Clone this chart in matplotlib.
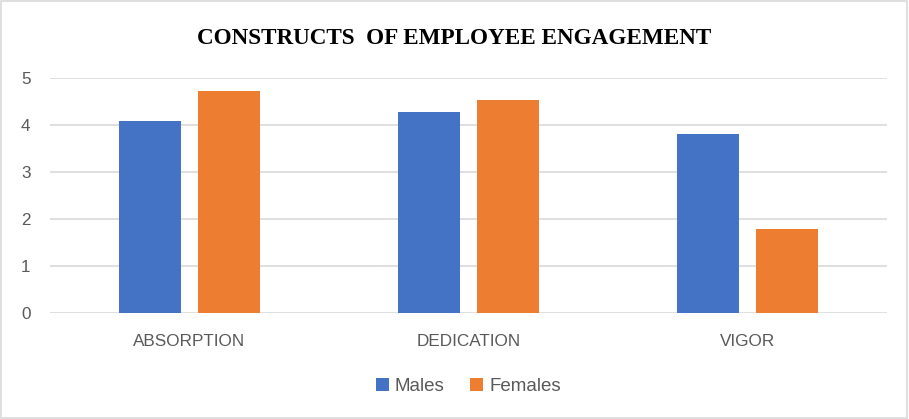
import matplotlib.pyplot as plt
import numpy as np

categories = ['ABSORPTION', 'DEDICATION', 'VIGOR']
males = [4.08, 4.28, 3.81]
females = [4.72, 4.53, 1.80]
series_names = ['Males', 'Females']
colors = ['#4472C4', '#ED7D31']

fig = plt.figure(figsize=(9.09, 4.19), dpi=100)
ax = fig.add_axes([0.055, 0.2523, 0.921, 0.5615])

x = np.arange(len(categories))
w = 0.222
ax.bar(x - 0.142, males, w, color=colors[0], label=series_names[0], zorder=3)
ax.bar(x + 0.142, females, w, color=colors[1], label=series_names[1], zorder=3)

ax.set_xlim(-0.5, 2.5)
ax.set_ylim(0, 5)
ax.set_yticks(range(6))
ax.yaxis.grid(True, color='#D9D9D9', linewidth=1.2, zorder=0)
for s in ax.spines.values():
    s.set_visible(False)
ax.tick_params(length=0, labelsize=12.3, labelcolor='#595959')
ax.tick_params(axis='y', pad=14)
ax.tick_params(axis='x', pad=15)
ax.set_xticks(x)
ax.set_xticklabels(categories)
for lab in ax.get_xticklabels() + ax.get_yticklabels():
    lab.set_family('Liberation Sans')

fig.text(0.5, 0.908, 'CONSTRUCTS  OF EMPLOYEE ENGAGEMENT', ha='center', va='center',
         family='Liberation Serif', fontweight='bold', fontsize=16.7)

fig.legend(loc='center', bbox_to_anchor=(0.515, 0.078), ncol=2, frameon=False,
           handlelength=0.7, handleheight=0.7, handletextpad=0.3, columnspacing=1.4,
           prop={'family': 'Liberation Sans', 'size': 13.5}, labelcolor='#595959')

fig.patches.append(plt.Rectangle((0.001, 0.002), 0.997, 0.996, transform=fig.transFigure,
                                 fill=False, edgecolor='#D9D9D9', linewidth=1.2))

plt.savefig('out.png')
